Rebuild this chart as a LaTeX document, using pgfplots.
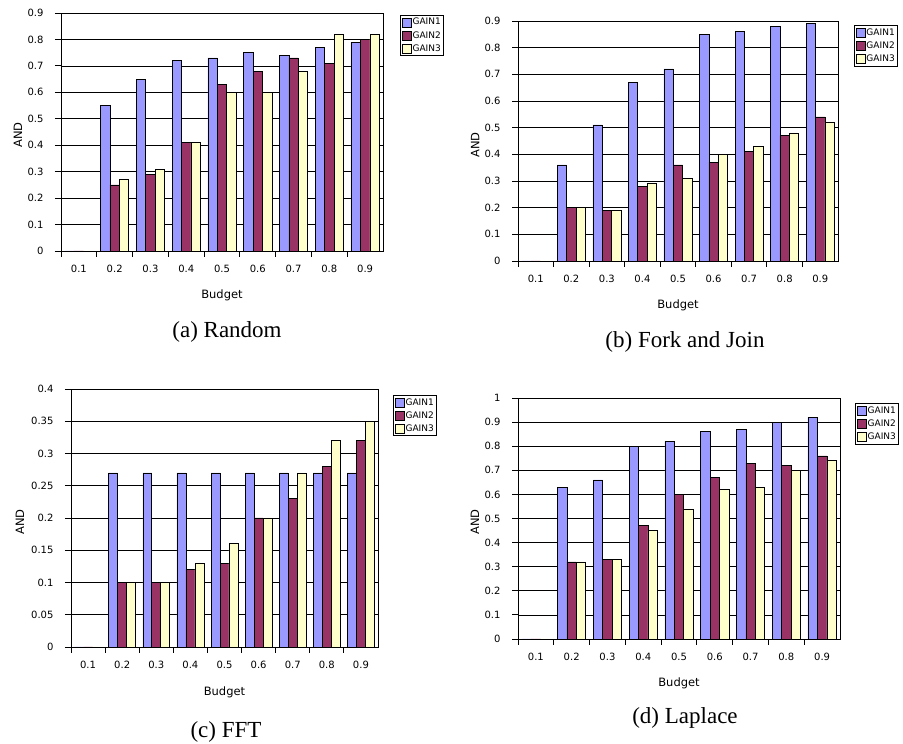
\documentclass[border=0pt]{standalone}
\usepackage{pgfplots}
\usepackage{pgfplotstable}
\pgfplotsset{compat=1.18}
\usepackage{fontspec}
\setmainfont{Liberation Serif}
\newfontfamily\chartfont{DejaVu Sans}

\definecolor{gaina}{HTML}{9999FF}
\definecolor{gainb}{HTML}{993366}
\definecolor{gainc}{HTML}{FFFFCC}

\pgfplotstableread{
x g1 g2 g3
0 0 0 0
1 0.55 0.25 0.27
2 0.65 0.29 0.31
3 0.72 0.41 0.41
4 0.73 0.63 0.60
5 0.75 0.68 0.60
6 0.74 0.73 0.68
7 0.77 0.71 0.82
8 0.79 0.80 0.82
}\datarandom

\pgfplotstableread{
x g1 g2 g3
0 0 0 0
1 0.36 0.20 0.20
2 0.51 0.19 0.19
3 0.67 0.28 0.29
4 0.72 0.36 0.31
5 0.85 0.37 0.40
6 0.86 0.41 0.43
7 0.88 0.47 0.48
8 0.89 0.54 0.52
}\datafork

\pgfplotstableread{
x g1 g2 g3
0 0 0 0
1 0.27 0.10 0.10
2 0.27 0.10 0.10
3 0.27 0.12 0.13
4 0.27 0.13 0.16
5 0.27 0.20 0.20
6 0.27 0.23 0.27
7 0.27 0.28 0.32
8 0.27 0.32 0.35
}\datafft

\pgfplotstableread{
x g1 g2 g3
0 0 0 0
1 0.63 0.32 0.32
2 0.66 0.33 0.33
3 0.80 0.47 0.45
4 0.82 0.60 0.54
5 0.86 0.67 0.62
6 0.87 0.73 0.63
7 0.90 0.72 0.70
8 0.92 0.76 0.74
}\datalaplace

\pgfplotsset{
  mybar/.style={
    ybar, scale only axis,
    bar width=0.263,
    xmin=-0.5, xmax=8.5, ymin=0,
    xtick={-0.5,0.5,1.5,2.5,3.5,4.5,5.5,6.5,7.5},
    xticklabels={},
    extra x ticks={0,1,2,3,4,5,6,7,8},
    extra x tick labels={0.1,0.2,0.3,0.4,0.5,0.6,0.7,0.8,0.9},
    extra x tick style={major tick length=0pt, xticklabel style={yshift=-11pt}},
    xtick pos=bottom, ytick pos=left,
    tick align=outside,
    major tick length=6pt,
    tick style={black, line width=0.8pt},
    ymajorgrids, major grid style={black, line width=0.7pt},
    axis line style={black, line width=0.8pt},
    scaled y ticks=false,
    yticklabel style={/pgf/number format/fixed, /pgf/number format/precision=2, xshift=-8pt},
    /pgf/number format/assume math mode=true,
    tick label style={font=\chartfont\fontsize{10}{11}\selectfont, black},
    label style={font=\chartfont\fontsize{11.5}{13}\selectfont},
    xlabel={Budget}, ylabel={AND},
    xlabel style={anchor=center},
    ylabel style={anchor=center},
    legend cell align=left,
    legend image code/.code={\draw[#1, line width=0.6pt] (0pt,-4.5pt) rectangle (9pt,4.5pt);},
    legend style={draw=black, line width=0.8pt, anchor=north west,
      font=\chartfont\fontsize{9}{10}\selectfont,
      inner xsep=1.5pt, inner ysep=2pt, row sep=3pt,
      nodes={inner sep=1pt}},
  },
  gone/.style={fill=gaina, draw=black, line width=0.6pt, bar shift=-0.263},
  gtwo/.style={fill=gainb, draw=black, line width=0.6pt, bar shift=0},
  gthree/.style={fill=gainc, draw=black, line width=0.6pt, bar shift=0.263},
}

\begin{document}
\begin{tikzpicture}
\path (0pt,0pt) rectangle (903pt,744pt);

% (a) Random
\begin{axis}[mybar, at={(61pt,493pt)}, anchor=south west,
  width=322pt, height=238pt, ymax=0.9,
  ytick={0,0.1,0.2,0.3,0.4,0.5,0.6,0.7,0.8,0.9},
  xlabel style={at={(axis description cs:0.5,-0.185)}},
  ylabel style={at={(axis description cs:-0.1335,0.487)}},
  legend style={at={(axis description cs:1.053,0.992)}}]
\addplot[gone] table[x=x,y=g1] {\datarandom};
\addplot[gtwo] table[x=x,y=g2] {\datarandom};
\addplot[gthree] table[x=x,y=g3] {\datarandom};
\legend{GAIN1,GAIN2,GAIN3}
\end{axis}

% (b) Fork and Join
\begin{axis}[mybar, at={(518pt,483pt)}, anchor=south west,
  width=320pt, height=240pt, ymax=0.9,
  ytick={0,0.1,0.2,0.3,0.4,0.5,0.6,0.7,0.8,0.9},
  xlabel style={at={(axis description cs:0.5,-0.183)}},
  ylabel style={at={(axis description cs:-0.134,0.483)}},
  legend style={at={(axis description cs:1.05,0.983)}}]
\addplot[gone] table[x=x,y=g1] {\datafork};
\addplot[gtwo] table[x=x,y=g2] {\datafork};
\addplot[gthree] table[x=x,y=g3] {\datafork};
\legend{GAIN1,GAIN2,GAIN3}
\end{axis}

% (c) FFT
\begin{axis}[mybar, at={(71pt,97pt)}, anchor=south west,
  width=307pt, height=258pt, ymax=0.4,
  ytick={0,0.05,0.1,0.15,0.2,0.25,0.3,0.35,0.4},
  xlabel style={at={(axis description cs:0.5,-0.174)}},
  ylabel style={at={(axis description cs:-0.166,0.484)}},
  legend style={at={(axis description cs:1.049,0.977)}}]
\addplot[gone] table[x=x,y=g1] {\datafft};
\addplot[gtwo] table[x=x,y=g2] {\datafft};
\addplot[gthree] table[x=x,y=g3] {\datafft};
\legend{GAIN1,GAIN2,GAIN3}
\end{axis}

% (d) Laplace
\begin{axis}[mybar, at={(518pt,105pt)}, anchor=south west,
  width=322pt, height=241pt, ymax=1,
  ytick={0,0.1,0.2,0.3,0.4,0.5,0.6,0.7,0.8,0.9,1},
  xlabel style={at={(axis description cs:0.5,-0.183)}},
  ylabel style={at={(axis description cs:-0.134,0.485)}},
  legend style={at={(axis description cs:1.047,0.979)}}]
\addplot[gone] table[x=x,y=g1] {\datalaplace};
\addplot[gtwo] table[x=x,y=g2] {\datalaplace};
\addplot[gthree] table[x=x,y=g3] {\datalaplace};
\legend{GAIN1,GAIN2,GAIN3}
\end{axis}

\begin{scope}[every node/.style={anchor=base, font=\fontsize{23}{26}\selectfont, inner sep=0pt}]
\node at (227pt,406pt) {(a) Random};
\node at (685pt,396pt) {(b) Fork and Join};
\node at (226pt,6pt) {(c) FFT};
\node at (685pt,20pt) {(d) Laplace};
\end{scope}
\end{tikzpicture}
\end{document}
